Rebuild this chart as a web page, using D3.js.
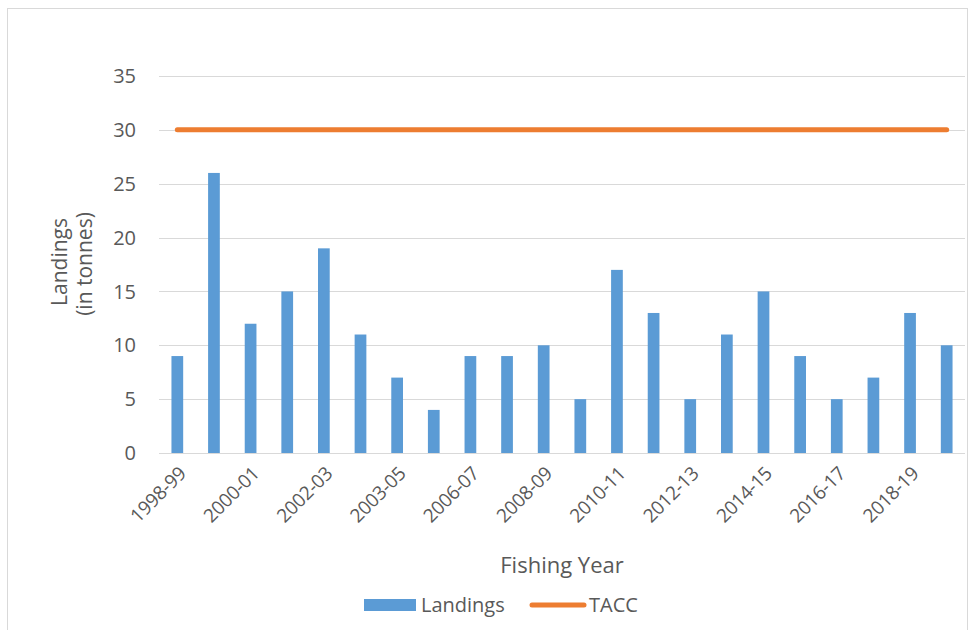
<!DOCTYPE html>
<html>
<head>
<meta charset="utf-8">
<script src="https://cdn.jsdelivr.net/npm/d3@7"></script>
<style>
  body { margin: 0; background: #fff; }
  text { font-family: "Open Sans", "Noto Sans", sans-serif; fill: #595959; }
</style>
</head>
<body>
<svg id="chart" width="970" height="630"></svg>
<script>
// Landings vs TACC, one bar per fishing year
const years = ['1998-99', '1999-00', '2000-01', '2001-02', '2002-03', '2003-04', '2003-05', '2005-06',
  '2006-07', '2007-08', '2008-09', '2009-10', '2010-11', '2011-12', '2012-13', '2013-14',
  '2014-15', '2015-16', '2016-17', '2017-18', '2018-19', '2019-20'];
const landings = [9, 26, 12, 15, 19, 11, 7, 4, 9, 9, 10, 5, 17, 13, 5, 11, 15, 9, 5, 7, 13, 10];
const tacc = [30, 30, 30, 30, 30, 30, 30, 30, 30, 30, 30, 30, 30, 30, 30, 30, 30, 30, 30, 30, 30, 30];
const yTicks = [0, 5, 10, 15, 20, 25, 30, 35];

const svg = d3.select('#chart');
const margin = { left: 159, right: 5, top: 76, bottom: 177 };
const W = 970, H = 630;

// chart border
svg.append('rect')
  .attr('x', 7.5).attr('y', 8.5)
  .attr('width', 960).attr('height', 640)
  .attr('fill', 'none').attr('stroke', '#d9d9d9');

const x = d3.scaleBand()
  .domain(years)
  .range([margin.left, W - margin.right])
  .paddingInner(0.68)
  .paddingOuter(0.34);

const y = d3.scaleLinear()
  .domain([0, 35])
  .range([H - margin.bottom, margin.top]);

// gridlines
svg.append('g')
  .selectAll('line')
  .data(yTicks)
  .join('line')
  .attr('x1', margin.left).attr('x2', W - margin.right)
  .attr('y1', d => Math.round(y(d)) + 0.5).attr('y2', d => Math.round(y(d)) + 0.5)
  .attr('stroke', '#d9d9d9').attr('stroke-width', 1);

// y tick labels
svg.append('g')
  .selectAll('text')
  .data(yTicks)
  .join('text')
  .attr('x', 136)
  .attr('y', d => y(d))
  .attr('dy', '0.36em')
  .attr('text-anchor', 'end')
  .attr('font-size', 20)
  .text(d => d);

// bars
svg.append('g')
  .selectAll('rect')
  .data(landings)
  .join('rect')
  .attr('x', (d, i) => x(years[i]))
  .attr('y', d => y(d))
  .attr('width', x.bandwidth())
  .attr('height', d => y(0) - y(d))
  .attr('fill', '#5b9bd5');

// TACC line
const line = d3.line()
  .x((d, i) => x(years[i]) + x.bandwidth() / 2)
  .y(d => y(d));
svg.append('path')
  .datum(tacc)
  .attr('d', line)
  .attr('fill', 'none')
  .attr('stroke', '#ed7d31')
  .attr('stroke-width', 5)
  .attr('stroke-linecap', 'round');

// x tick labels, every other year
svg.append('g')
  .selectAll('text')
  .data(years.filter((d, i) => i % 2 === 0))
  .join('text')
  .attr('transform', d => `translate(${x(d) + x.bandwidth() / 2 + 5},${y(0) + 17}) rotate(-45)`)
  .attr('text-anchor', 'end')
  .attr('dy', '0.36em')
  .attr('font-size', 19)
  .attr('letter-spacing', -0.3)
  .text(d => d);

// axis titles
svg.append('text')
  .attr('transform', 'translate(67,262) rotate(-90)')
  .attr('text-anchor', 'middle')
  .attr('font-size', 21)
  .text('Landings');
svg.append('text')
  .attr('transform', 'translate(92,264) rotate(-90)')
  .attr('text-anchor', 'middle')
  .attr('font-size', 21)
  .text('(in tonnes)');
svg.append('text')
  .attr('x', 562).attr('y', 573)
  .attr('text-anchor', 'middle')
  .attr('font-size', 22)
  .text('Fishing Year');

// legend
const legend = svg.append('g');
legend.append('rect')
  .attr('x', 364).attr('y', 599)
  .attr('width', 52).attr('height', 12)
  .attr('fill', '#5b9bd5');
legend.append('text')
  .attr('x', 421).attr('y', 605)
  .attr('dy', '0.36em')
  .attr('font-size', 20)
  .text('Landings');
legend.append('line')
  .attr('x1', 532).attr('x2', 584)
  .attr('y1', 605).attr('y2', 605)
  .attr('stroke', '#ed7d31').attr('stroke-width', 5)
  .attr('stroke-linecap', 'round');
legend.append('text')
  .attr('x', 589).attr('y', 605)
  .attr('dy', '0.36em')
  .attr('font-size', 20)
  .text('TACC');
</script>
</body>
</html>
